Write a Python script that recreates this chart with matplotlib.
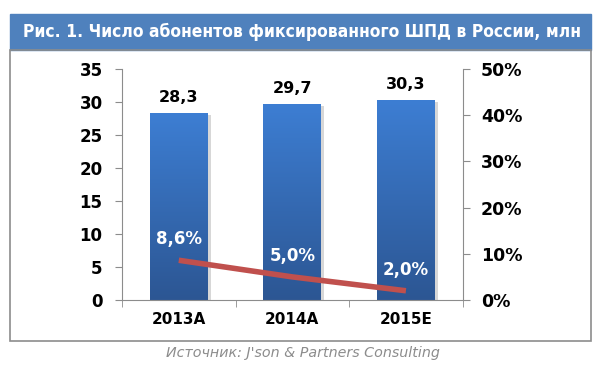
import numpy as np
import matplotlib
matplotlib.use("Agg")
import matplotlib.pyplot as plt
from matplotlib.patches import Rectangle
from matplotlib.colors import LinearSegmentedColormap

# data
years = ["2013A", "2014A", "2015E"]
subs = [28.3, 29.7, 30.3]          # млн абонентов
growth = [8.6, 5.0, 2.0]           # прирост, %
subs_labels = ["28,3", "29,7", "30,3"]
growth_labels = ["8,6%", "5,0%", "2,0%"]

title = "Рис. 1. Число абонентов фиксированного ШПД в России, млн"
source = "Источник: J'son & Partners Consulting"

fig = plt.figure(figsize=(6.04, 3.78), dpi=100)

# title bar + frame
W, H = 604, 378
def fx(px): return px / W
def fy(py): return 1 - py / H
fig.patches.append(Rectangle((fx(10), fy(50)), fx(591) - fx(10), fy(14) - fy(50),
                             transform=fig.transFigure, color="#4f81bd", zorder=0))
fig.patches.append(Rectangle((fx(10), fy(341)), fx(591) - fx(10), fy(50) - fy(341),
                             transform=fig.transFigure, fill=False, ec="#8c8c8c", lw=1.2, zorder=0))
fig.text(fx(302), fy(32), title, color="white", fontsize=12.5, fontweight="bold",
         ha="center", va="center", family="DejaVu Sans", stretch="condensed")
fig.text(fx(303), fy(353), source, color="#8c8c8c", fontsize=10.3, style="italic",
         ha="center", va="center")

ax = fig.add_axes([fx(122), fy(300), fx(462.7) - fx(122), fy(69) - fy(300)])

cmap = LinearSegmentedColormap.from_list("bar", ["#2c5693", "#3d7ed3"])
grad = np.linspace(0, 1, 256).reshape(-1, 1)
bw = 0.51
bars = ax.bar(range(len(years)), subs, width=bw, color="none", zorder=2)
for i, (b, v) in enumerate(zip(bars, subs)):
    # тень справа
    ax.add_patch(Rectangle((i - bw / 2 + 0.025, 0), bw, v - 0.3, color="#a8a8a8",
                           alpha=0.45, zorder=1, lw=0))
    im = ax.imshow(grad, extent=(i - bw / 2, i + bw / 2, 0, v), origin="lower",
                   cmap=cmap, aspect="auto", zorder=2)
    im.set_clip_path(b)
    ax.text(i, v + 1.2, subs_labels[i], ha="center", va="bottom", fontsize=11.5,
            fontweight="bold", color="black", zorder=5)
ax.set_xlim(-0.5, 2.5)
ax.set_ylim(0, 35)

ax.set_yticks(range(0, 36, 5))
ax.set_xticks(range(len(years)))
ax.set_xticklabels(years, fontsize=11, fontweight="bold")
ax.set_xticks([-0.5, 0.5, 1.5, 2.5], minor=True)
ax.tick_params(axis="x", which="major", length=0, pad=9)
ax.tick_params(axis="x", which="minor", length=5, color="#8c8c8c", direction="out")
ax.tick_params(axis="y", length=5, color="#8c8c8c", direction="out", pad=9)
for lab in ax.get_yticklabels():
    lab.set_fontsize(12)
    lab.set_fontweight("bold")
for s in ["top", "right"]:
    ax.spines[s].set_visible(False)
for s in ["left", "bottom"]:
    ax.spines[s].set_color("#8c8c8c")

ax2 = ax.twinx()
ax2.set_ylim(0, 50)
ax2.set_yticks(range(0, 51, 10))
ax2.set_yticklabels([f"{t}%" for t in range(0, 51, 10)], fontsize=12.5, fontweight="bold")
ax2.tick_params(axis="y", length=5, color="#8c8c8c", direction="out", pad=8)
for s in ["top", "left", "bottom"]:
    ax2.spines[s].set_visible(False)
ax2.spines["right"].set_color("#8c8c8c")
ax2.plot(range(len(years)), growth, color="#c0504d", lw=4, solid_capstyle="butt", zorder=4)
for i, (g, l) in enumerate(zip(growth, growth_labels)):
    ax2.text(i, g + 2.6, l, ha="center", va="bottom", fontsize=12, fontweight="bold",
             color="white", zorder=5)

fig.savefig("out.png", dpi=100)
